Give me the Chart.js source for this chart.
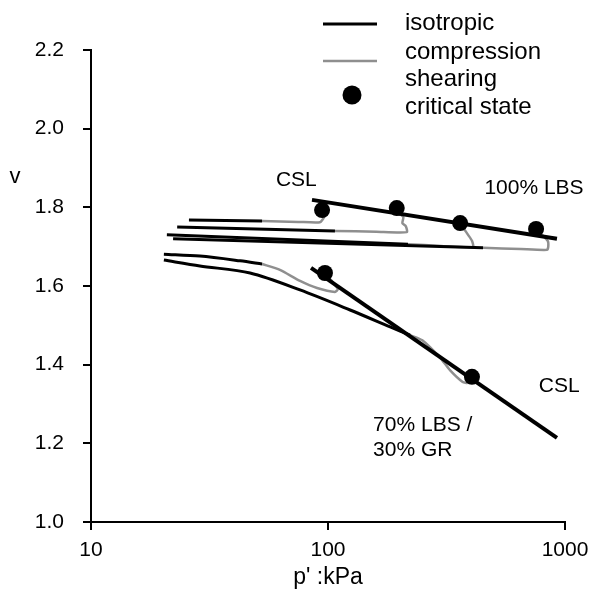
<!DOCTYPE html>
<html lang="en">
<head>
<meta charset="utf-8">
<title>v - p' chart</title>
<script src="https://cdn.jsdelivr.net/npm/chart.js"></script>
<style>
    body { margin: 0; background: #fff; }
</style>
</head>
<body>
<canvas id="myChart" width="611" height="608"></canvas>
<script>
    /* ---- 100% LBS ---- */
    const lbsIso1P = [25.9, 52.7];
    const lbsIso1V = [1.768, 1.765];
    const lbsShear1P = [52.7, 75, 92.5, 96, 94.4];
    const lbsShear1V = [1.765, 1.763, 1.762, 1.775, 1.793];

    const lbsIso2P = [23.1, 107];
    const lbsIso2V = [1.750, 1.740];
    const lbsShear2P = [107, 160, 215, 213, 206, 208, 200, 195];
    const lbsShear2V = [1.740, 1.738, 1.737, 1.752, 1.760, 1.775, 1.785, 1.798];

    const lbsIso3P = [20.9, 217.6];
    const lbsIso3V = [1.730, 1.706];
    const lbsShear3P = [217.6, 300, 409, 405, 390, 375, 361];
    const lbsShear3V = [1.706, 1.702, 1.699, 1.715, 1.730, 1.745, 1.760];

    const lbsIso4P = [22.2, 451];
    const lbsIso4V = [1.720, 1.697];
    const lbsShear4P = [451, 650, 839, 850, 845, 755];
    const lbsShear4V = [1.697, 1.694, 1.692, 1.700, 1.715, 1.745];

    const lbsCsP = [94.4, 195, 361, 755];
    const lbsCsV = [1.793, 1.798, 1.760, 1.745];
    const lbsCslP = [85.6, 925];
    const lbsCslV = [1.819, 1.720];

    /* ---- 70% LBS / 30% GR ---- */
    const grIsoAP = [20.3, 28.8, 42.6, 52.7];
    const grIsoAV = [1.681, 1.676, 1.664, 1.656];
    const grShearAP = [52.7, 62.7, 76.2, 89.9, 107, 110, 103, 97.1];
    const grShearAV = [1.656, 1.641, 1.613, 1.595, 1.585, 1.592, 1.615, 1.633];

    const grIsoBP = [20.3, 28.8, 46.9, 76.2, 124, 183, 222];
    const grIsoBV = [1.666, 1.651, 1.633, 1.590, 1.539, 1.496, 1.475];
    const grShearBP = [222, 250, 297, 327, 370, 390, 405];
    const grShearBV = [1.475, 1.462, 1.418, 1.386, 1.356, 1.354, 1.369];

    const grCsP = [97.1, 405];
    const grCsV = [1.633, 1.369];
    const grCslP = [84.8, 925];
    const grCslV = [1.646, 1.214];

    /* axis ticks */
    const xTicks = [10, 100, 1000];

    /* text notes in data units */
    const noteText = ['CSL', '100% LBS', 'CSL', '70% LBS /', '30% GR'];
    const noteP = [73.5, 740, 945, 155, 155];
    const noteV = [1.868, 1.849, 1.346, 1.247, 1.183];
    const noteAlign = ['center', 'center', 'center', 'left', 'left'];

    const FONT = '"Liberation Sans", Arial, sans-serif';
    const GREY = '#8f8f8f';

    function pts(p, v) {
        return p.map((x, i) => ({ x: x, y: v[i] }));
    }

    function iso(p, v, tension) {
        return { data: pts(p, v), showLine: true, borderColor: '#000', borderWidth: 3,
                 pointRadius: 0, tension: tension || 0, order: 2 };
    }
    function shear(p, v) {
        return { data: pts(p, v), showLine: true, borderColor: GREY, borderWidth: 2.5,
                 pointRadius: 0, tension: 0.2, order: 3 };
    }
    function csl(p, v) {
        return { data: pts(p, v), showLine: true, borderColor: '#000', borderWidth: 4,
                 pointRadius: 0, order: 1 };
    }
    function dots(p, v) {
        return { data: pts(p, v), showLine: false, pointRadius: 8, pointStyle: 'circle',
                 backgroundColor: '#000', borderColor: '#000', borderWidth: 0, order: 0 };
    }

    const notesPlugin = {
        id: 'notes',
        afterDraw(chart) {
            const ctx = chart.ctx;
            const xs = chart.scales.x, ys = chart.scales.y;
            ctx.save();
            ctx.fillStyle = '#000';
            ctx.font = '21px ' + FONT;
            ctx.textBaseline = 'middle';
            noteText.forEach((t, i) => {
                ctx.textAlign = noteAlign[i];
                ctx.fillText(t, xs.getPixelForValue(noteP[i]), ys.getPixelForValue(noteV[i]));
            });

            // y axis name
            ctx.font = '22px ' + FONT;
            ctx.textAlign = 'center';
            ctx.fillText('v', 15, 177);

            // legend
            ctx.strokeStyle = '#000';
            ctx.lineWidth = 3;
            ctx.beginPath(); ctx.moveTo(323, 24); ctx.lineTo(377, 24); ctx.stroke();
            ctx.strokeStyle = GREY;
            ctx.lineWidth = 2.5;
            ctx.beginPath(); ctx.moveTo(323, 61); ctx.lineTo(377, 61); ctx.stroke();
            ctx.beginPath(); ctx.arc(352, 95, 9.5, 0, Math.PI * 2); ctx.fill();

            ctx.font = '24px ' + FONT;
            ctx.textAlign = 'left';
            ctx.fillText('isotropic', 405, 23);
            ctx.fillText('compression', 405, 52);
            ctx.fillText('shearing', 405, 79);
            ctx.fillText('critical state', 405, 107);
            ctx.restore();
        }
    };

    new Chart(document.getElementById('myChart'), {
        type: 'scatter',
        data: {
            datasets: [
                dots(lbsCsP, lbsCsV),
                dots(grCsP, grCsV),
                csl(lbsCslP, lbsCslV),
                csl(grCslP, grCslV),
                iso(lbsIso1P, lbsIso1V),
                iso(lbsIso2P, lbsIso2V),
                iso(lbsIso3P, lbsIso3V),
                iso(lbsIso4P, lbsIso4V),
                iso(grIsoAP, grIsoAV, 0.3),
                iso(grIsoBP, grIsoBV, 0.3),
                shear(lbsShear1P, lbsShear1V),
                shear(lbsShear2P, lbsShear2V),
                shear(lbsShear3P, lbsShear3V),
                shear(lbsShear4P, lbsShear4V),
                shear(grShearAP, grShearAV),
                shear(grShearBP, grShearBV)
            ]
        },
        options: {
            responsive: false,
            animation: false,
            layout: { padding: { top: 50, right: 46, left: 0, bottom: 0 } },
            plugins: { legend: { display: false }, tooltip: { enabled: false } },
            scales: {
                x: {
                    type: 'logarithmic',
                    min: 10,
                    max: 1000,
                    afterBuildTicks: s => { s.ticks = xTicks.map(v => ({ value: v })); },
                    afterFit: s => { s.height = 86; },
                    ticks: {
                        callback: v => String(v),
                        color: '#000',
                        font: { family: FONT, size: 21 },
                        padding: 8,
                        maxRotation: 0
                    },
                    grid: { drawOnChartArea: false, tickLength: 8, color: '#000', lineWidth: 2 },
                    border: { color: '#000', width: 2 },
                    title: {
                        display: true,
                        text: "p' :kPa",
                        color: '#000',
                        font: { family: FONT, size: 23 },
                        padding: { top: 17, bottom: 17 }
                    }
                },
                y: {
                    min: 1.0,
                    max: 2.2,
                    afterFit: s => { s.width = 91; },
                    ticks: {
                        stepSize: 0.2,
                        callback: v => v.toFixed(1),
                        color: '#000',
                        font: { family: FONT, size: 21 },
                        padding: 19
                    },
                    grid: { drawOnChartArea: false, tickLength: 8, color: '#000', lineWidth: 2 },
                    border: { color: '#000', width: 2 }
                }
            }
        },
        plugins: [notesPlugin]
    });
</script>
</body>
</html>
